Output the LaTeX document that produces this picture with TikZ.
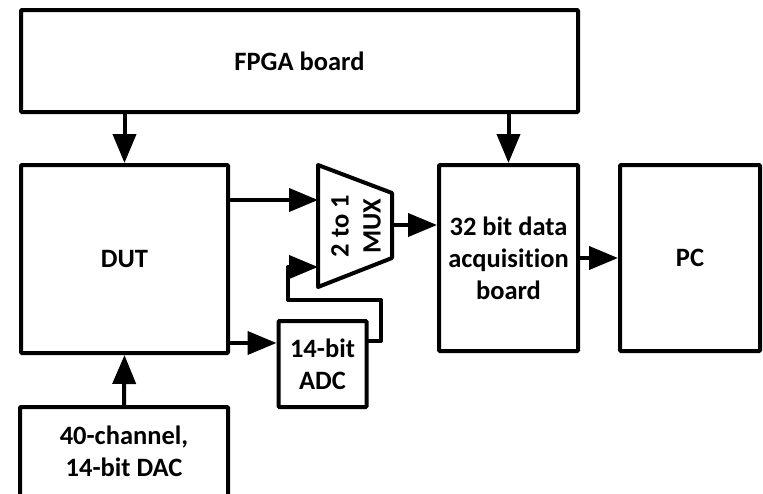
\documentclass[tikz,border=0pt]{standalone}
\usepackage{fontspec}
\setmainfont{Carlito}[RawFeature=-liga]
\usetikzlibrary{arrows.meta}
\begin{document}
\begin{tikzpicture}[x=1pt,y=-1pt,
  label font/.style={font=\fontsize{26.5}{32}\selectfont\bfseries},
  block/.style={draw,line width=4pt,rounded corners=1pt,inner sep=0pt,
    align=center,label font},
  link/.style={line width=4pt,-{Triangle[length=29pt,width=23pt]}},
  wire/.style={line width=4pt,line join=round}]
\useasboundingbox (0,0) rectangle (763,493);
% blocks
\node[block,minimum width=557pt,minimum height=102pt] (fpga) at (299.5,61) {FPGA board};
\node[block,minimum width=207pt,minimum height=188pt] (dut) at (124.5,259) {DUT};
\node[block,minimum width=139pt,minimum height=186pt] (daq) at (508.5,258) {32 bit data\\acquisition\\board};
\node[block,minimum width=140pt,minimum height=186pt] (pc) at (690,258) {PC};
\node[block,minimum width=88pt,minimum height=86pt] (adc) at (322.5,364) {14-bit\\ADC};
\node[block,minimum width=208pt,minimum height=89pt] (dac) at (124,451.5) {40-channel,\\14-bit DAC};
% multiplexer
\coordinate (m1) at (318,165);
\coordinate (m2) at (392,193);
\coordinate (m3) at (392,258);
\coordinate (m4) at (318,287);
\draw[wire] (m1) -- (m2) -- (m3) -- (m4) -- cycle;
\node[rotate=90,align=center,inner sep=0pt,label font] (mux) at (356,226) {2 to 1\\MUX};
\coordinate (in1) at (318,200);
\coordinate (in2) at (318,267);
\coordinate (out) at (392,225);
\coordinate (dutadc) at (228,343);
\coordinate (adcout) at (366,341);
% connectors
\draw[link] (fpga.south -| dut.north) -- (dut.north);
\draw[link] (fpga.south -| daq.north) -- (daq.north);
\draw[link] (dut.east |- in1) -- (in1);
\draw[link] (dutadc) -- (dutadc -| adc.west);
\draw[link] (out) -- (out -| daq.west);
\draw[link] (daq.east) -- (pc.west);
\draw[link] (dac.north) -- (dut.south);
\draw[wire,-{Triangle[length=29pt,width=23pt]}] (adcout) -- (381,341) -- (381,300) -- (288,300) -- (288,267) -- (in2);
\end{tikzpicture}
\end{document}
